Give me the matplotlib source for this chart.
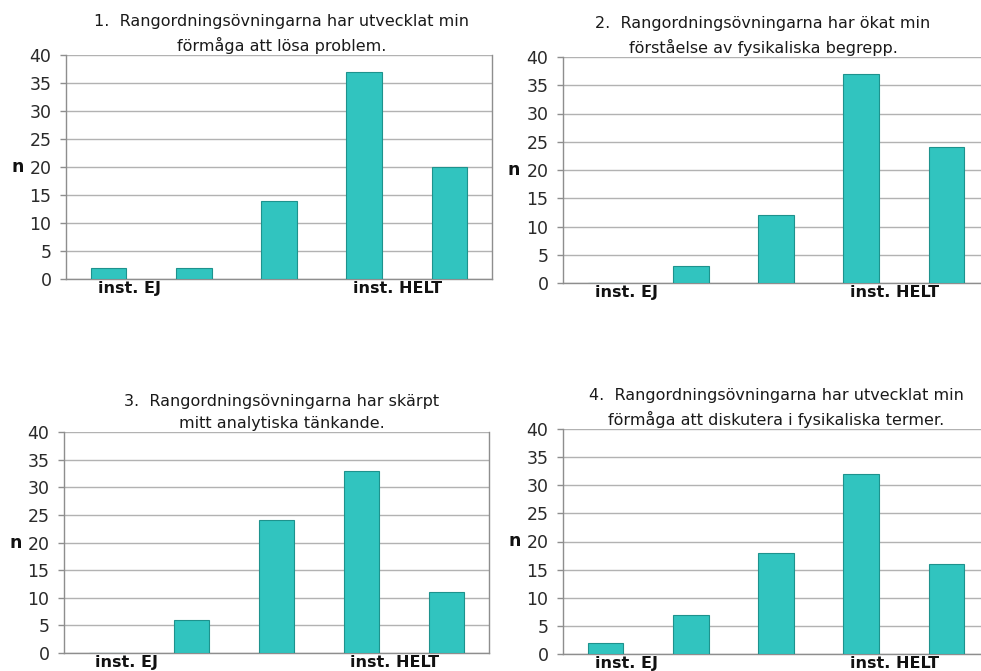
import matplotlib
matplotlib.use("Agg")
import matplotlib.pyplot as plt

plt.rcParams['font.family'] = ['DejaVu Sans']

# Survey answers: number of students (n) per response level, 5-step scale
levels = ["1", "2", "3", "4", "5"]
end_labels = {0: "inst. EJ", 3: "inst. HELT"}

titles = [
    "1.  Rangordningsövningarna har utvecklat min\nförmåga att lösa problem.",
    "2.  Rangordningsövningarna har ökat min\nförståelse av fysikaliska begrepp.",
    "3.  Rangordningsövningarna har skärpt\nmitt analytiska tänkande.",
    "4.  Rangordningsövningarna har utvecklat min\nförmåga att diskutera i fysikaliska termer.",
]
q1_counts = [2, 2, 14, 37, 20]
q2_counts = [0, 3, 12, 37, 24]
q3_counts = [0, 6, 24, 33, 11]
q4_counts = [2, 7, 18, 32, 16]
y_ticks = [0, 5, 10, 15, 20, 25, 30, 35, 40]

W, H = 981, 671
fig = plt.figure(figsize=(W / 100, H / 100), dpi=100)

# axes boxes in pixels: left, top, right, bottom
boxes = [
    (66, 55, 492, 279),
    (563, 57, 989, 283),
    (64, 432, 489, 653),
    (563, 429, 989, 654),
]
title_cx = [282, 763, 282, 776]
n_x = [18, 514, 16, 515]

bar_face = "#31C4BF"
bar_edge = "#1E928D"
grid_col = "#B2B2B2"
spine_col = "#8E8E8E"

for (l, t, r, b), title, counts, tcx, nx in zip(
        boxes, titles, [q1_counts, q2_counts, q3_counts, q4_counts],
        title_cx, n_x):
    ax = fig.add_axes([l / W, 1 - b / H, (r - l) / W, (b - t) / H])
    x = list(range(len(levels)))
    ax.bar(x, counts, width=0.42, color=bar_face, edgecolor=bar_edge,
           linewidth=0.8, zorder=3)
    ax.set_xlim(-0.5, len(levels) - 0.5)
    ax.set_ylim(0, 40)
    ax.set_yticks(y_ticks)
    ax.set_xticks([])
    ax.yaxis.grid(True, color=grid_col, linewidth=1.0, zorder=0)
    ax.set_axisbelow(True)
    for side in ("left", "bottom", "right"):
        ax.spines[side].set_color(spine_col)
        ax.spines[side].set_linewidth(1.0)
    ax.spines["top"].set_visible(False)
    ax.tick_params(axis="y", direction="out", length=4, width=1.0,
                   color=spine_col, pad=6.5, labelsize=12.5,
                   labelcolor="#2a2a2a")

    # end-of-scale labels under the first and fourth columns
    for i, txt in end_labels.items():
        ax.annotate(txt, xy=(i - 0.13, 0), xycoords=("data", "axes fraction"),
                    xytext=(0, -1.5), textcoords="offset points",
                    ha="left", va="top", fontsize=11.5, fontweight="bold",
                    color="#111111")

    # y-axis label "n" placed horizontally beside the 20 tick
    ax.annotate("n", xy=(0, 20), xycoords=("axes fraction", "data"),
                xytext=(-(l - nx) * 0.72, 0),
                textcoords="offset points", ha="center", va="center",
                fontsize=12.5, fontweight="bold", color="#111111")

    ax.annotate(title, xy=((tcx - l) / (r - l), 1), xycoords="axes fraction",
                xytext=(0, 1), textcoords="offset points",
                ha="center", va="bottom", fontsize=11.5, linespacing=1.55,
                color="#1a1a1a")

fig.savefig("out.png", dpi=100)
